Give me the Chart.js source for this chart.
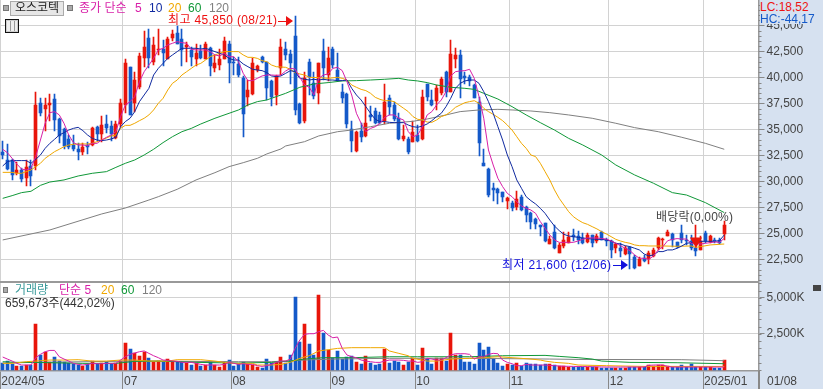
<!DOCTYPE html>
<html lang="ko"><head><meta charset="utf-8">
<script src="https://cdn.jsdelivr.net/npm/chart.js@4/dist/chart.umd.min.js"></script>
<style>
html,body{margin:0;padding:0;background:#d6e1f0;overflow:hidden}
#wrap{position:relative;width:823px;height:389px;overflow:hidden;font-family:"Liberation Sans","Noto Sans CJK KR",sans-serif;font-size:12px}
canvas{position:absolute;left:0}
.t{position:absolute;white-space:nowrap;line-height:14px;height:14px}
.b{position:absolute}
</style></head><body>
<div id="wrap">
<canvas id="price" width="823" height="281" style="top:0"></canvas>
<canvas id="vol" width="823" height="108" style="top:281px"></canvas>

<div class="b" style="left:0;top:281px;width:759px;height:1.5px;background:#999"></div>
<div class="b" style="left:758px;top:371px;width:1.5px;height:18px;background:#888"></div>

<div class="b" style="left:3px;top:5px;width:4px;height:4px;background:#aaa;border:1px solid #777"></div>
<div class="b" style="left:10px;top:1px;width:52px;height:13px;background:#e6e6e6;border:1px solid #aaa;box-sizing:content-box"></div>
<span class="t" style="left:15px;top:1px;color:#222">오스코텍</span>
<div class="b" style="left:67px;top:5px;width:4px;height:4px;background:#aaa;border:1px solid #777"></div>
<span class="t" style="left:79px;top:1px;color:#d81fa8">종가 단순</span>
<span class="t" style="left:135px;top:1px;color:#d81fa8">5</span>
<span class="t" style="left:149px;top:1px;color:#102aa0">10</span>
<span class="t" style="left:168px;top:1px;color:#f0a800">20</span>
<span class="t" style="left:188px;top:1px;color:#109838">60</span>
<span class="t" style="left:209px;top:1px;color:#808080">120</span>
<div class="b" style="left:5px;top:19px;width:12px;height:12px;border:1px solid #111;background:
repeating-linear-gradient(90deg,#999 0 1px,#eee 1px 4px),#eee;outline:1px solid #ccc;outline-offset:-2px"></div>

<span class="t" style="left:168px;top:13px;color:#ee1111;letter-spacing:.35px">최고 45,850 (08/21)</span>
<div class="b" style="left:278px;top:20.5px;width:8px;height:1px;background:#ee1111"></div>
<div class="b" style="left:286px;top:16px;width:0;height:0;border-left:7px solid #ee1111;border-top:5px solid transparent;border-bottom:5px solid transparent"></div>
<span class="t" style="left:502px;top:258px;color:#1111dd;letter-spacing:.35px">최저 21,600 (12/06)</span>
<div class="b" style="left:613px;top:265px;width:8px;height:1px;background:#1111dd"></div>
<div class="b" style="left:621px;top:260px;width:0;height:0;border-left:7px solid #1111dd;border-top:5px solid transparent;border-bottom:5px solid transparent"></div>
<span class="t" style="left:656px;top:210px;color:#444;letter-spacing:.2px">배당락(0,00%)</span>

<span class="t" style="left:760px;top:0;color:#ee1111;background:#d6e1f0;width:62px">LC:18,52</span>
<span class="t" style="left:760px;top:12px;height:12px;color:#1459c9;background:#d6e1f0;width:62px">HC:-44,17</span>

<div class="b" style="left:3px;top:287px;width:3px;height:4px;background:#aaa;border:1px solid #777"></div>
<span class="t" style="left:15px;top:283px;color:#3a9a9a">거래량</span>
<span class="t" style="left:59px;top:283px;color:#d81fa8">단순 5</span>
<span class="t" style="left:101px;top:283px;color:#f0a800">20</span>
<span class="t" style="left:121px;top:283px;color:#109838">60</span>
<span class="t" style="left:142px;top:283px;color:#808080">120</span>
<span class="t" style="left:5px;top:296px;color:#333">659,673주(442,02%)</span>
<div class="b" style="left:813px;top:285px;width:8px;height:6px;background:#444"></div>
<span class="t" style="left:767px;top:374px;color:#444">01/08</span>
</div>
<script>
const monthStarts=[0,26,49,70,88,108,129,149];
const monthLabels=['2024/05','07','08','09','10','11','12','2025/01'];
const priceTicks=[22500,25000,27500,30000,32500,35000,37500,40000,42500,45000];
const volTicks=[2500,5000];
const dividendBar=147, dividendTop=25800, dividendBottom=24100, dividendMark=24250;

const opens=[32800,32050,32050,30750,31100,30300,31450,31450,37500,37000,
37300,37900,36000,35050,34050,33450,33100,32800,33450,33450,
35200,34550,35500,35300,34150,35500,37350,41000,37550,39050,
41900,43800,41500,42650,42750,41800,43800,44250,43650,42900,
42650,41750,42550,41800,42800,40900,41200,41800,43200,41450,
41300,39900,38150,38400,40750,42000,41500,39650,38300,40850,
42700,42250,43950,37450,35750,41450,39500,38450,42500,40200,
42700,40700,38600,38400,35000,32900,34850,34350,36400,36750,
36400,35750,38000,37350,36050,34100,34050,33800,34450,34050,
39400,37800,37700,38450,40500,38600,41750,42150,40150,40000,
39300,37650,31750,31200,29400,29250,28950,28150,27900,27500,
28450,27550,26950,26400,25750,25950,23950,25100,23150,23800,
24100,24800,24750,24500,24150,24800,24250,25100,24400,24300,
23600,23600,23050,23650,22750,21900,22600,22500,22850,23600,
24400,24750,24950,24150,25000,24400,24300,23550,23400,25000,
24200,24400,24350,24950];
const closes=[32500,31150,30650,31100,30200,31350,30500,37300,36550,37300,
37500,35900,34350,33350,33250,33100,32800,33250,33250,35150,
34550,35450,35150,34500,35500,37550,41350,36400,39750,42050,
42950,41900,43100,42700,42300,43650,44150,43250,42650,43100,
42000,42350,41900,43200,41100,41350,41750,43500,41350,41400,
40200,36450,38800,41400,41100,41500,38950,38150,40150,42950,
42150,41400,36900,35650,39900,40050,38250,41350,40850,41900,
41200,39700,38000,35500,33900,34700,34300,35650,36200,35650,
35650,37650,37100,35950,34100,34400,32800,34700,33900,38100,
38150,37350,38950,39850,38600,42250,42150,39850,39950,39600,
38050,33700,31450,28700,29150,28900,28450,28400,27450,28300,
27200,26800,26050,25900,25650,24250,24450,23550,23900,24400,
24600,24600,24350,24100,24850,24100,24700,24400,24350,23350,
23950,23250,23550,23000,21700,22500,22350,23100,23350,24500,
24450,25150,24350,23700,24350,24250,23600,23300,24250,24300,
24750,24250,24050,25750];
const highs=[33900,33600,32100,31850,31250,32050,32050,38600,38000,38000,
38400,38400,36050,35100,34450,34450,33650,33650,33800,35250,
35300,36300,36400,35750,35750,37950,41800,41000,40550,42350,
44500,44600,43850,44600,43600,43850,44550,44950,44600,43350,
42950,43250,43100,43350,42900,42150,42700,43850,43500,42000,
42000,40150,39750,41900,41200,42050,41500,39750,40200,43700,
43350,42650,45850,37500,40550,41800,40550,41400,43650,42950,
42950,42300,39400,38450,35750,34850,35650,38150,37200,37050,
36700,39400,38300,37650,36550,35400,34250,35750,35400,38800,
39400,38800,39250,40000,40600,43600,42800,42650,40550,40200,
39400,38150,33150,31250,29850,29400,29000,28500,28150,29050,
28700,27650,27000,26450,25800,26000,24700,25800,24050,25150,
25100,25400,25250,25000,25000,24850,24950,25250,24500,24350,
24050,24050,23800,23700,22900,22750,22900,23250,23550,24600,
24500,25300,25050,24200,25800,24850,24850,23700,24700,25250,
24850,24500,24500,26200];
const lows=[32100,31100,30150,30600,29950,29500,29550,31100,36300,34850,
35750,34850,33650,33100,33100,32950,32000,32550,32650,33400,
33900,33800,34600,33900,34050,35250,36550,36400,36700,38850,
41000,40850,41200,42150,41100,41750,43450,43200,41100,41500,
41100,41100,41750,41750,40150,40550,40700,41800,39500,40200,
40000,34250,37250,38300,40550,41350,37800,37200,37350,40200,
41650,39400,36400,35500,35600,38300,37900,37450,39750,39600,
40850,39600,37500,35100,32850,32850,33800,34300,35750,35500,
35500,35500,36400,35750,33950,33900,32650,33800,33800,33950,
37750,37250,36850,38300,38150,38600,40850,38050,39400,39150,
38050,32450,31450,28450,28150,27800,28050,27300,27100,27200,
27100,26050,25400,25400,24750,24200,23950,23450,23100,23550,
24050,24300,23950,23950,24050,23700,24050,24350,23800,22600,
23150,22750,22900,21600,21600,21850,22250,22050,22700,23350,
23450,24700,23700,23550,24050,23900,23400,22850,23400,24050,
24050,24050,23950,24350];
const volumes=[440,600,370,255,255,325,325,3170,1020,1200,
510,880,600,510,440,370,325,255,370,600,
370,440,510,370,440,600,1850,1435,1160,950,
1250,790,510,600,510,740,600,510,510,440,
325,440,255,325,555,325,185,510,650,255,
370,510,415,325,185,140,740,485,510,880,
440,1020,5050,1900,3170,1780,1020,5190,2550,1365,
835,1300,740,880,950,530,370,950,440,325,
370,1435,440,600,510,325,510,835,325,1505,
740,395,835,790,600,2550,1020,1020,510,510,
395,1850,1365,1575,740,465,255,395,325,465,
255,465,370,370,325,370,370,325,280,230,
185,185,185,185,185,185,185,140,140,140,
140,140,140,185,185,185,185,325,230,325,
325,230,185,185,325,185,415,185,185,185,
185,140,140,660];

const ma5=[33080,32750,32210,31660,31180,31090,31250,32370,33970,35580,
36600,36700,36380,35580,34450,33720,33490,33490,33430,33650,
33650,33970,34230,34450,34770,36220,37340,37660,38140,39580,
40540,41180,41820,42630,42790,43110,43270,43430,43330,43270,
42690,42630,42630,42630,42470,42150,42050,42310,41980,41980,
41500,40380,39680,39680,39900,40130,40220,40220,40190,40220,
40610,40860,40800,40000,39260,39040,38300,39900,40220,40320,
40860,40960,40640,39580,38300,36540,35580,34770,35090,35250,
35580,36150,36380,36380,36060,35900,34770,34290,34450,35250,
36380,36700,37340,37820,38620,40130,40540,40610,40640,40770,
39900,38140,36060,33010,31570,30290,29490,28840,28520,28040,
27630,27400,27240,26920,26120,25480,24840,24360,24130,24130,
24130,24130,24260,24420,24550,24550,24550,24490,24450,24260,
24040,23810,23560,23330,22920,22600,22600,22500,22820,23400,
23720,24290,24420,24490,24450,24450,24040,24040,23970,24040,
24100,24170,24130,24520];
const ma10=[31470,31890,31990,31990,31990,31990,31730,32110,32530,33170,
33650,34040,34450,34680,34930,35090,35190,34870,34450,34130,
33970,33910,33970,34070,34230,35250,35740,36060,36700,37660,
38300,38940,40220,40860,41340,41820,42150,42470,42790,42790,
42790,42790,42720,42790,42630,42470,42310,42150,41820,41660,
41660,41280,41020,40770,40700,40640,40450,40130,40060,40130,
40380,40640,40540,39900,39810,39740,39810,39740,39810,39740,
39740,39680,39680,39740,38940,38300,37820,37180,36540,35960,
35740,35740,35670,35640,35640,35640,35410,35250,35190,35320,
35510,35830,36220,36540,37180,37980,38940,39420,39650,39740,
39740,39420,38620,37660,36540,35250,33970,32530,31410,30130,
29330,28520,28140,27820,27400,26920,26280,25700,25260,24900,
24740,24680,24610,24550,24490,24450,24420,24420,24360,24260,
24040,23970,23810,23720,23560,23400,23010,22820,22920,23240,
23240,23400,23400,23560,23780,24040,24100,24200,24230,24230,
24230,24230,24290,24840];
const ma20=[[0,30860],[2,30860],[3,30770],[4,30770],[5,30930],[6,31090],[7,31410],[8,31730],[9,32210],[10,32530],
[11,32850],[12,33080],[13,33330],[14,33490],[15,33560],[16,33590],[18,33590],[19,33650],[20,33810],[21,33970],
[23,34360],[24,34450],[25,35090],[26,35380],[27,35380],[28,35580],[29,35830],[30,36060],[31,36380],[32,36860],
[33,37500],[34,37980],[35,38780],[36,39420],[37,39740],[38,40220],[39,40540],[40,40860],[41,41180],[42,41340],
[43,41660],[44,41980],[45,42150],[46,42310],[47,42470],[49,42470],[50,42470],[51,42150],[52,41920],[53,41920],
[54,41820],[55,41600],[56,41500],[57,41180],[58,41020],[60,40960],[61,40770],[62,40450],[63,40320],[64,40220],
[65,40000],[67,39970],[69,39900],[71,40000],[72,39900],[73,39740],[74,39260],[75,39040],[76,38840],[77,38720],
[78,38460],[79,38070],[80,37880],[81,37750],[82,37750],[83,37660],[84,37340],[85,37020],[86,36700],[87,36220],
[88,35960],[89,35900],[90,35700],[91,35670],[92,35900],[93,36220],[94,36380],[95,36700],[96,37110],[97,37340],
[98,37560],[99,37660],[100,37750],[101,37500],[102,37020],[103,36700],[104,36440],[105,36150],[106,35830],[107,35410],
[108,34930],[109,34290],[110,33650],[111,33170],[112,32530],[113,32370],[114,31730],[115,30930],[116,30130],[117,29170],
[118,28360],[119,27720],[120,27080],[121,26600],[122,26280],[123,26020],[124,25860],[125,25640],[126,25420],[127,25160],
[128,24930],[129,24680],[130,24420],[131,24260],[132,24130],[133,24040],[134,23880],[135,23810],[136,23810],[137,23780],
[140,23780],[143,23750],[146,23780],[147,23650],[148,23720],[150,23880],[153,23970]];
const ma60=[[0,28360],[2,28620],[4,28910],[6,29040],[8,29610],[10,29930],[13,30130],[16,30510],[19,30770],[22,30930],
[24,31340],[26,31730],[28,32050],[30,32530],[32,33080],[34,33720],[36,34290],[38,34770],[40,35090],[42,35510],
[45,36060],[48,36540],[50,36860],[52,37340],[54,37660],[56,37820],[57,37980],[60,38460],[63,39040],[66,39360],
[69,39490],[72,39650],[75,39680],[78,39740],[81,39810],[84,39900],[86,39740],[88,39650],[90,39490],[92,39260],
[95,39040],[98,38940],[100,38840],[102,38460],[105,37910],[108,37180],[111,36380],[114,35640],[117,34930],[120,34130],
[123,33490],[127,32530],[130,31570],[134,30610],[138,29810],[142,28910],[145,28680],[149,27950],[153,26990]];
const ma120=[[0,24360],[10,25320],[21,26860],[26,27430],[31,28200],[33,28520],[37,29230],[41,30130],[45,30830],[48,31410],
[51,31790],[54,32210],[56,32630],[59,33110],[60,33400],[64,33810],[67,34360],[71,34770],[74,34930],[78,35250],
[82,35580],[87,35770],[90,35990],[94,36380],[97,36700],[101,36860],[105,36920],[108,36860],[112,36760],[116,36600],
[120,36380],[125,36060],[130,35580],[134,35160],[139,34770],[144,34230],[149,33650],[153,33080]];

const volMa5=[880,740,600,440,325,325,325,835,1065,1250,
1340,1340,900,740,600,440,370,325,370,440,
415,415,440,440,440,670,900,1065,1160,1250,
1300,1135,970,835,670,650,600,580,510,510,
510,440,370,325,325,325,325,370,510,440,
370,415,370,370,280,230,280,370,510,600,
600,740,1480,2060,2455,2500,2500,2640,2730,2410,
2220,2270,1480,1020,900,835,670,600,555,510,
510,600,670,670,670,650,600,600,510,555,
790,740,670,670,835,1020,1110,1110,1110,1065,
740,900,900,1065,1135,1110,670,510,415,280,
280,370,325,325,325,325,300,280,255,240,
235,230,225,220,215,210,200,190,185,185,
185,185,185,185,185,185,185,300,325,325,
325,230,185,185,185,185,185,185,185,185,
185,185,185,185];
const volMa20=[[0,440],[2,440],[5,555],[7,600],[10,670],[13,670],[16,695],[19,600],[22,600],[25,670],
[28,670],[31,600],[35,600],[37,695],[42,695],[45,600],[47,510],[49,440],[53,440],[54,325],
[57,325],[59,370],[61,510],[63,790],[65,970],[67,1300],[69,1390],[71,1480],[74,1530],[78,1530],
[81,1530],[82,1300],[84,1135],[86,970],[87,790],[90,600],[92,600],[95,740],[99,790],[102,835],
[105,900],[108,835],[112,740],[114,670],[115,600],[117,510],[120,440],[122,325],[128,280],[136,230],[153,230]];
const volMa60=[[0,555],[3,510],[7,510],[10,485],[17,440],[24,440],[28,580],[33,600],[41,510],[50,460],
[57,510],[61,600],[64,740],[68,835],[74,835],[82,900],[88,900],[99,900],[106,970],[115,995],
[118,925],[122,835],[125,740],[127,600],[133,510],[143,485],[153,415]];
const volMa120=[[0,463],[7,510],[28,600],[50,555],[57,555],[64,670],[70,740],[82,790],[99,790],[116,740],
[122,715],[144,695],[153,625]];

const RED='#e8150a',BLUE='#1459c9',AXISBG='#d6e1f0',GRID='#d2d2d2',AX='#999999',TXT='#444444';
const FONT='"Liberation Sans","Noto Sans CJK KR",sans-serif';
const isUp=i=>closes[i]>=opens[i];
const barColor=c=>c.dataIndex!==undefined?(isUp(c.dataIndex)?RED:BLUE):BLUE;
const X_MIN=-0.5725,X_MAX=160.26;

const idx=opens.map((_,i)=>i);
const wickData=idx.map(i=>({x:i,y:[lows[i],highs[i]]}));
const bodyData=idx.map(i=>({x:i,y:[opens[i],closes[i]]}));
const volData=idx.map(i=>({x:i,y:volumes[i]}));
const ser=a=>a.map((v,i)=>[i,v]);

const line=(data,color,order)=>({type:'line',data,borderColor:color,borderWidth:1,pointRadius:0,tension:0,order,spanGaps:true});

const snap={id:'snap',afterDatasetsUpdate(ch){
  ch.data.datasets.forEach((d,di)=>{
    if((d.type||ch.config.type)!=='bar')return;
    ch.getDatasetMeta(di).data.forEach(el=>{
      el.x=Math.floor(el.x)+0.5;
      el.y=Math.round(el.y);el.base=Math.round(el.base);
      if(Math.abs(el.base-el.y)<1)el.base=el.y+1;
    });
  });
}};
const paint={id:'paint',beforeDraw(ch){
  const c=ch.ctx,a=ch.chartArea;c.save();
  c.fillStyle=AXISBG;c.fillRect(0,0,ch.width,ch.height);
  c.fillStyle='#fff';c.fillRect(a.left,a.top,a.right-a.left,a.bottom-a.top);c.restore();
}};
const minor=(step,lo,hi)=>({id:'minor',afterDraw(ch){
  const c=ch.ctx,s=ch.scales.y,r=ch.chartArea.right;c.save();c.strokeStyle='#888';c.lineWidth=1;
  for(let v=lo;v<=hi;v+=step){const y=Math.round(s.getPixelForValue(v))+.5;
    if(y<ch.chartArea.top||y>ch.chartArea.bottom)continue;
    c.beginPath();c.moveTo(r,y);c.lineTo(r+3,y);c.stroke();}
  c.restore();
}});
const xScale=(showLabels)=>({type:'linear',min:X_MIN,max:X_MAX,offset:false,
  afterBuildTicks:s=>{s.ticks=monthStarts.map(v=>({value:v-0.5}));},
  afterFit:s=>{s.height=showLabels?18:0;s.paddingLeft=0;s.paddingRight=0;},
  grid:{offset:false,color:GRID,lineWidth:1,drawTicks:showLabels,tickLength:18,tickColor:'#888'},
  border:{display:showLabels,color:AX,width:1.5},
  ticks:{display:showLabels,autoSkip:false,maxRotation:0,minRotation:0,align:'start',padding:-15,labelOffset:1,
    color:TXT,font:{family:FONT,size:12},
    callback:(v)=>{const k=monthStarts.indexOf(v+0.5);return k<0?'':monthLabels[k];}}
});
const yScale=(min,max,ticks,fmt)=>({type:'linear',position:'right',min,max,
  afterBuildTicks:s=>{s.ticks=ticks.map(v=>({value:v}));},
  afterFit:s=>{s.width=64.5;s.paddingTop=0;s.paddingBottom=0;},
  grid:{color:GRID,lineWidth:1,tickLength:6,tickColor:'#888'},
  border:{color:AX,width:1.5},
  ticks:{padding:2,color:TXT,font:{family:FONT,size:12},callback:fmt,autoSkip:false}
});
const base={responsive:false,animation:false,devicePixelRatio:1,events:[],
  layout:{padding:0,autoPadding:false},plugins:{legend:{display:false},tooltip:{enabled:false}}};

new Chart(document.getElementById('price'),{type:'bar',
 data:{datasets:[
  {label:'wick',data:wickData,backgroundColor:barColor,barThickness:1,grouped:false,order:20,borderWidth:0},
  {label:'body',data:bodyData,backgroundColor:barColor,barThickness:3,grouped:false,order:19,borderWidth:0},
  line(ma120,'#808080',9),
  line(ma60,'#109838',8),
  line(ma20,'#f0a800',7),
  line(ser(ma10),'#102aa0',6),
  line(ser(ma5),'#d81fa8',5),
  {label:'dividend line',data:[{x:dividendBar,y:[dividendBottom,dividendTop]}],backgroundColor:RED,barThickness:1,grouped:false,order:2,borderWidth:0},
  {label:'dividend mark',type:'line',data:[[dividendBar,dividendMark]],showLine:false,pointStyle:'triangle',rotation:180,pointRadius:7,pointBackgroundColor:RED,pointBorderWidth:0,order:1}
 ]},
 options:{...base,scales:{x:xScale(false),
   y:yScale(20413,47433,priceTicks,v=>v.toLocaleString('en-US'))}},
 plugins:[paint,snap,minor(500,20500,47000)]
});

new Chart(document.getElementById('vol'),{type:'bar',
 data:{datasets:[
  {label:'volume',data:volData,backgroundColor:barColor,barThickness:3,grouped:false,order:20,borderWidth:0},
  line(volMa120,'#808080',9),
  line(volMa60,'#109838',8),
  line(volMa20,'#f0a800',7),
  line(ser(volMa5),'#d81fa8',5)
 ]},
 options:{...base,scales:{x:xScale(true),
   y:yScale(-90,6160,volTicks,v=>v.toLocaleString('en-US')+'K')}},
 plugins:[paint,snap,minor(500,0,6000)]
});
</script>
</body></html>
